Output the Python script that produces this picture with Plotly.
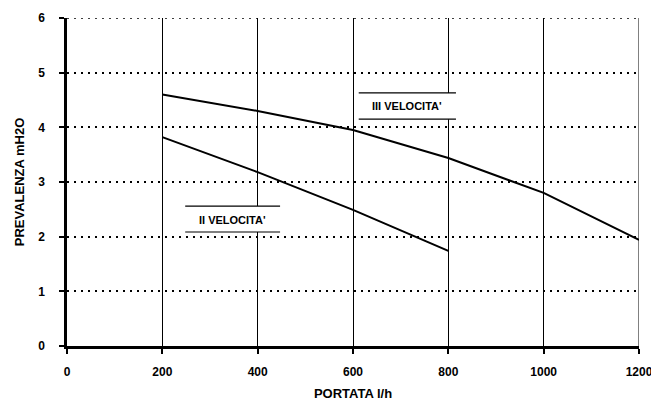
import plotly.graph_objects as go

portata = [200, 400, 600, 800, 1000, 1200]
vel3 = [4.60, 4.30, 3.95, 3.44, 2.80, 1.94]
portata2 = [200, 400, 600, 800]
vel2 = [3.82, 3.18, 2.49, 1.74]

label3 = "III VELOCITA'"
label2 = "II VELOCITA'"
x_title = "PORTATA l/h"
y_title = "PREVALENZA mH2O"

font_fam = "Liberation Sans, Arial, sans-serif"

fig = go.Figure()
fig.add_trace(go.Scatter(x=portata, y=vel3, mode="lines",
                         line=dict(color="black", width=2), showlegend=False))
fig.add_trace(go.Scatter(x=portata2, y=vel2, mode="lines",
                         line=dict(color="black", width=2), showlegend=False))

shapes = []
# label boxes: white background with top & bottom rules
for (x0, x1, y0, y1) in [(612, 816, 4.15, 4.63), (248, 447, 2.085, 2.56)]:
    shapes.append(dict(type="rect", xref="x", yref="y", x0=x0, x1=x1, y0=y0, y1=y1,
                       fillcolor="white", line=dict(width=0), layer="above"))
    shapes.append(dict(type="line", xref="x", yref="y", x0=x0, x1=x1, y0=y1, y1=y1,
                       line=dict(color="black", width=1.2), layer="above"))
    shapes.append(dict(type="line", xref="x", yref="y", x0=x0, x1=x1, y0=y0, y1=y0,
                       line=dict(color="black", width=1.2), layer="above"))
# right border at 1200 (solid) and top dotted line at 6
shapes.append(dict(type="line", xref="x", yref="y", x0=1200, x1=1200, y0=0, y1=6,
                   line=dict(color="black", width=1), layer="below"))
shapes.append(dict(type="line", xref="x", yref="y", x0=0, x1=1200, y0=6, y1=6,
                   line=dict(color="black", width=1.5, dash="2px,5px"), layer="below"))

annotations = [
    dict(x=714, y=4.39, xref="x", yref="y", text="<b>" + label3 + "</b>", showarrow=False,
         font=dict(family=font_fam, size=11, color="black")),
    dict(x=348, y=2.30, xref="x", yref="y", text="<b>" + label2 + "</b>", showarrow=False,
         font=dict(family=font_fam, size=11, color="black")),
]

fig.update_layout(
    width=643, height=393,
    margin=dict(l=59, r=12, t=10, b=55),
    paper_bgcolor="white", plot_bgcolor="white",
    font=dict(family=font_fam, color="black"),
    shapes=shapes, annotations=annotations,
    xaxis=dict(range=[0, 1200], tickvals=[0, 200, 400, 600, 800, 1000, 1200],
               automargin=False, ticklabeloverflow="allow",
               showgrid=True, gridcolor="black", gridwidth=1,
               showline=True, linecolor="black", linewidth=2.5,
               ticks="outside", ticklen=5, tickcolor="black", tickwidth=2,
               ticklabelstandoff=8, zeroline=False,
               tickfont=dict(family=font_fam, size=12, color="black", weight="bold"),
               title=dict(text="<b>" + x_title + "</b>", standoff=16,
                          font=dict(family=font_fam, size=13, color="black"))),
    yaxis=dict(range=[0, 6], tickvals=[0, 1, 2, 3, 4, 5, 6],
               automargin=False, ticklabeloverflow="allow",
               showgrid=True, gridcolor="black", gridwidth=1.5, griddash="2px,5px",
               showline=True, linecolor="black", linewidth=2.5,
               ticks="outside", ticklen=5, tickcolor="black", tickwidth=2,
               ticklabelstandoff=12, zeroline=False,
               tickfont=dict(family=font_fam, size=12, color="black", weight="bold"),
               title=dict(text="<b>" + y_title + "</b>", standoff=11,
                          font=dict(family=font_fam, size=13, color="black"))),
)

fig.write_html("out.html")
